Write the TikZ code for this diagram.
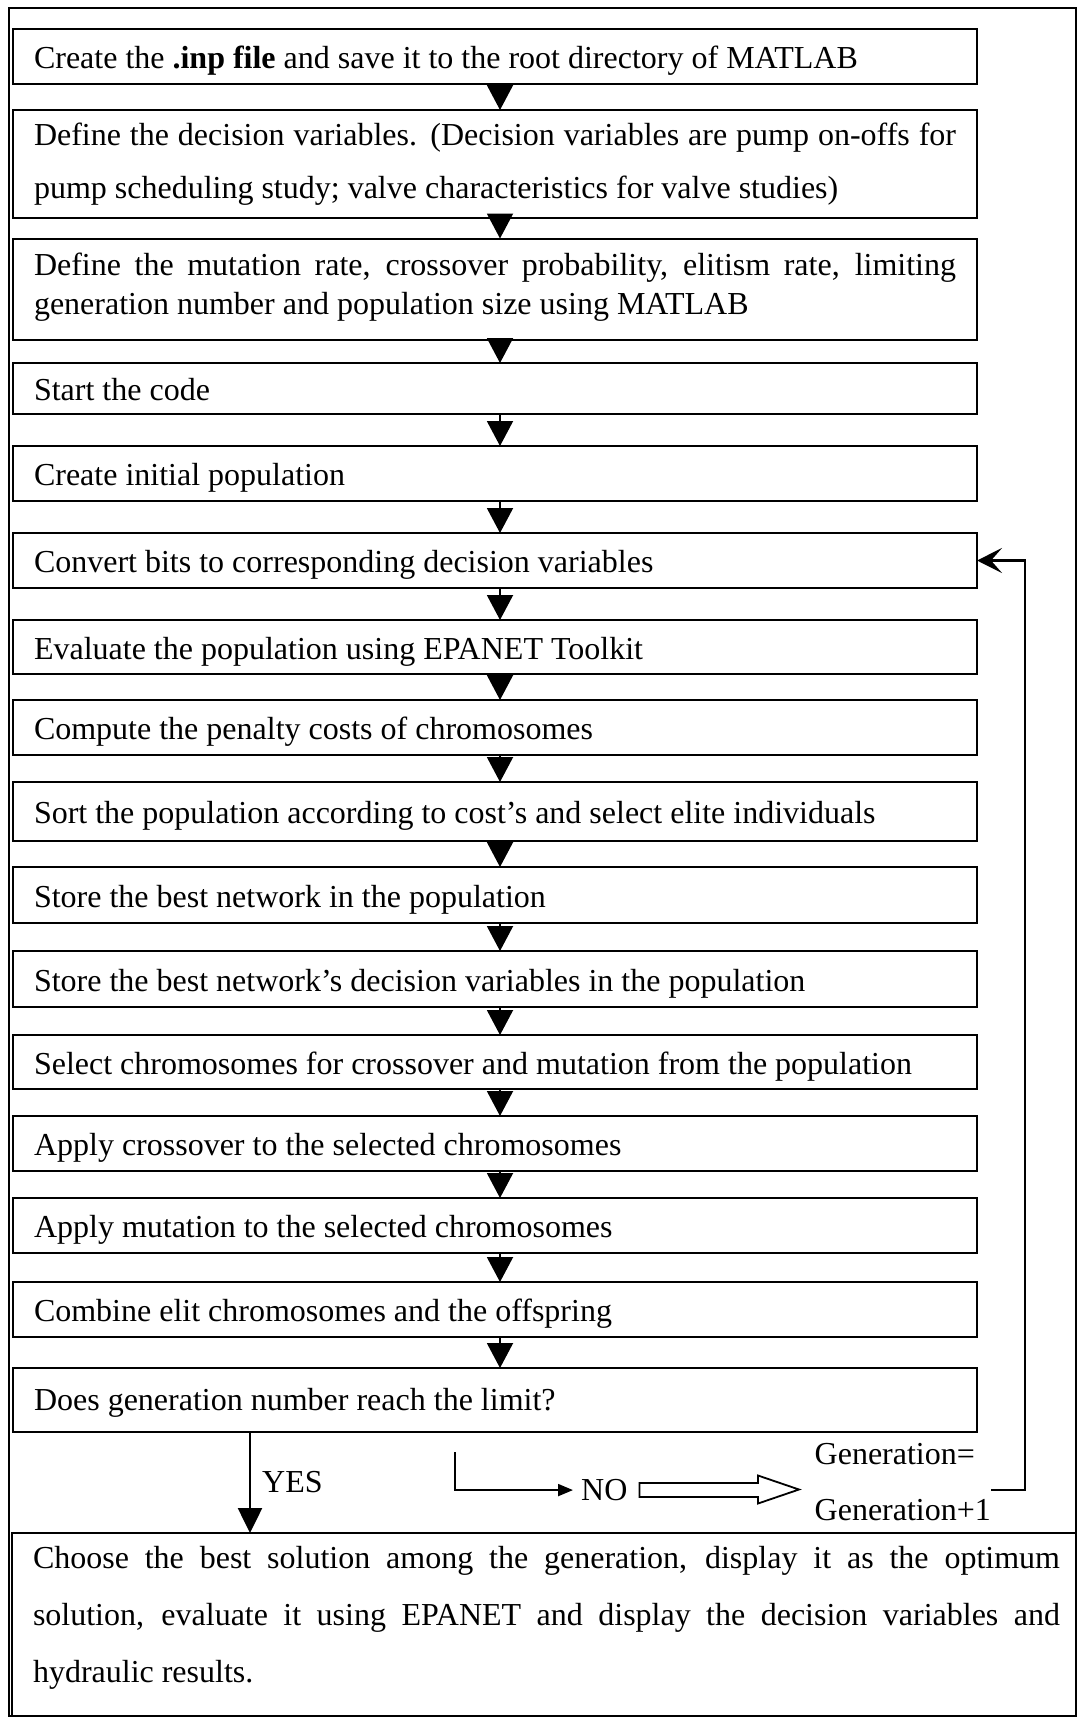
\documentclass[tikz,border=0pt]{standalone}
\usepackage{fontspec}
\setmainfont{Liberation Serif}
\usetikzlibrary{arrows.meta,calc}
\begin{document}
\begin{tikzpicture}[x=1pt,y=-1pt,
  every node/.style={font=\fontsize{32}{38}\selectfont},
  box/.style={draw, line width=2pt, outer sep=0pt, anchor=north west,
    minimum width=964pt, inner xsep=21pt, inner ysep=0pt,
    text width=922pt, align=flush left},
  sbox/.style={box, text height=24pt, text depth=0pt},
  flow/.style={line width=2pt, -{Triangle[length=25pt,width=26pt]}},
  yesarrow/.style={line width=2.5pt, -{Triangle[length=25pt,width=24pt]}},
  noarrow/.style={line width=2pt, -{Triangle[length=15pt,width=12pt]}},
  fback/.style={line width=2.5pt, -{Stealth[length=25pt,width=25pt,inset=11pt]}},
  hollow/.style={line width=1.8pt, fill=white, line join=miter},
  lbl/.style={inner sep=0pt}
]
\useasboundingbox (0,0) rectangle (1078,1718);
% outer frame
\draw[line width=2pt] (8.6,8) rectangle (1076,1716);

\node[sbox, minimum height=55pt] (b1) at (13,29) {Create the \textbf{.inp file} and save it to the root directory of MATLAB};
\node[box, minimum height=108pt, font=\fontsize{32}{53}\selectfont] (b2) at (13,110)
  {\makebox[922pt][s]{Define the decision variables. (Decision variables are pump on-offs for}\\pump scheduling study; valve characteristics for valve studies)};
\node[box, minimum height=101.5pt, font=\fontsize{32}{38.4}\selectfont] (b3) at (13,238.5)
  {\makebox[922pt][s]{Define the mutation rate, crossover probability, elitism rate, limiting}\\generation number and population size using MATLAB\rule[-11pt]{0pt}{1pt}};
\node[sbox, minimum height=51pt] (b4) at (13,363) {Start the code};
\node[sbox, minimum height=55pt] (b5) at (13,446) {Create initial population};
\node[sbox, minimum height=55pt] (b6) at (13,533) {Convert bits to corresponding decision variables};
\node[sbox, minimum height=54pt] (b7) at (13,620) {Evaluate the population using EPANET Toolkit};
\node[sbox, minimum height=55pt] (b8) at (13,700) {Compute the penalty costs of chromosomes};
\node[sbox, minimum height=59pt] (b9) at (13,782) {Sort the population according to cost’s and select elite individuals};
\node[sbox, minimum height=56pt] (b10) at (13,867) {Store the best network in the population};
\node[sbox, minimum height=56pt] (b11) at (13,951) {Store the best network’s decision variables in the population};
\node[sbox, minimum height=54pt] (b12) at (13,1035) {Select chromosomes for crossover and mutation from the population};
\node[sbox, minimum height=55pt] (b13) at (13,1116) {Apply crossover to the selected chromosomes};
\node[sbox, minimum height=55pt] (b14) at (13,1198) {Apply mutation to the selected chromosomes};
\node[sbox, minimum height=55pt] (b15) at (13,1282) {Combine elit chromosomes and the offspring};
\node[sbox, minimum height=64pt, text height=20pt] (b16) at (13,1368) {Does generation number reach the limit?};

\node[draw, line width=2pt, outer sep=0pt, anchor=north west, inner sep=0pt,
  minimum width=1064pt, minimum height=183pt, text width=1064pt, align=flush left,
  font=\fontsize{32}{57}\selectfont] (bf) at (12,1533)
  {\hspace*{21pt}\makebox[1027pt][s]{Choose the best solution among the generation, display it as the optimum}\\
   \hspace*{21pt}\makebox[1027pt][s]{solution, evaluate it using EPANET and display the decision variables and}\\
   \hspace*{21pt}hydraulic results.\rule[-20pt]{0pt}{1pt}};

% main flow arrows
\foreach \a/\b in {b1/b2,b2/b3,b3/b4,b4/b5,b5/b6,b6/b7,b7/b8,b8/b9,b9/b10,b10/b11,b11/b12,b12/b13,b13/b14,b14/b15,b15/b16}
  \draw[flow] ([xshift=5pt]\a.south) -- ([xshift=5pt]\b.north);

% YES branch
\coordinate (yx) at (250,1450);
\draw[yesarrow] (b16.south -| yx) -- (bf.north -| yx);
\node[lbl, anchor=base west] (yes) at (262,1492) {YES};

% NO branch
\node[lbl, anchor=base west] (no) at (581,1500.5) {NO};
\coordinate (nl) at (455,1452);
\draw[noarrow] (nl) |- ([xshift=-8pt]no.west);
\draw[hollow] (639.5,1483) -- (758,1483) -- (758,1475.5) -- (799,1489.5) -- (758,1503.5) -- (758,1497) -- (639.5,1497) -- cycle;
\node[lbl, anchor=west, align=flush left, font=\fontsize{32}{56.7}\selectfont] (gen) at (814.5,1482) {Generation=\\Generation+1};

% feedback loop
\coordinate (fb) at (1025,1490);
\draw[fback] (gen.east |- fb) -- (fb) |- (b6.east);
\end{tikzpicture}
\end{document}
